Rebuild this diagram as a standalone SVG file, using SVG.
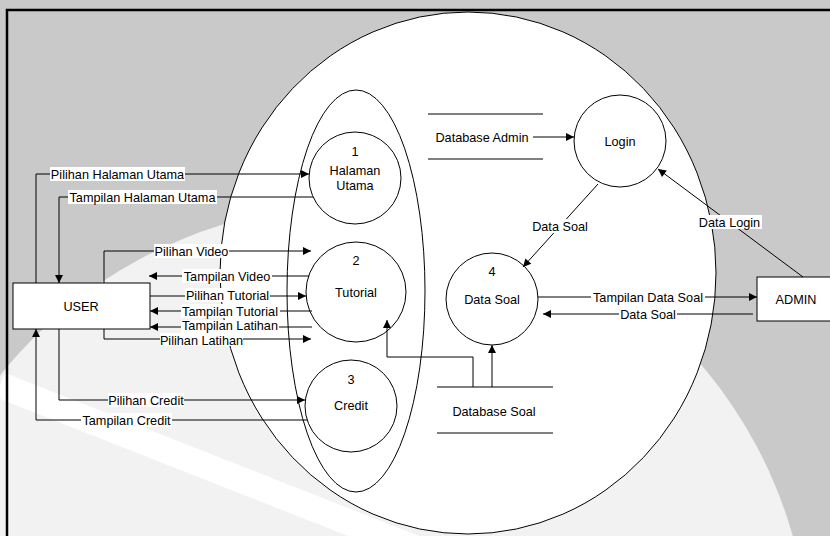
<svg xmlns="http://www.w3.org/2000/svg" width="830" height="536" viewBox="0 0 830 536">
<style>
.ln{fill:none;stroke:#000;stroke-width:1}
.sh{fill:#fff;stroke:#000;stroke-width:1}
.t{font-family:"Liberation Sans",Arial,sans-serif;font-size:12.7px;fill:#000;text-anchor:middle}
.lb{fill:#fff;stroke:none}
</style>
<defs>
<marker id="ah" viewBox="0 0 10 10" refX="10" refY="5" markerWidth="9" markerHeight="8" markerUnits="userSpaceOnUse" orient="auto">
<path d="M0,0 L10,5 L0,10 z" fill="#000"/>
</marker>
<clipPath id="inner"><circle cx="355" cy="660" r="455"/></clipPath>
</defs>
<g id="background">
<rect x="0" y="0" width="830" height="536" fill="#c9c9c9"/>
<circle cx="355" cy="660" r="455" fill="#f2f2f2"/>
<g clip-path="url(#inner)">
<line x1="0" y1="385" x2="460" y2="566" stroke="#fff" stroke-width="26"/>
</g>
<path d="M7,536 V10 H830" fill="none" stroke="#000" stroke-width="2.5"/>
</g>
<g id="context">
<ellipse cx="468" cy="273" rx="248" ry="261" class="sh"/>
</g>
<g id="process-group">
<ellipse cx="356" cy="291" rx="69" ry="201" class="sh"/>
</g>
<g id="p1">
<circle cx="355" cy="178" r="46" class="sh"/>
<text x="355" y="156" class="t">1</text>
<text x="355" y="175" class="t">Halaman</text>
<text x="355" y="190" class="t">Utama</text>
</g>
<g id="p2">
<circle cx="356" cy="292" r="50" class="sh"/>
<text x="356" y="265" class="t">2</text>
<text x="356" y="297" class="t">Tutorial</text>
</g>
<g id="p3">
<circle cx="351" cy="406" r="46" class="sh"/>
<text x="351" y="384" class="t">3</text>
<text x="351" y="410" class="t">Credit</text>
</g>
<g id="login">
<circle cx="620" cy="141" r="46" class="sh"/>
<text x="620" y="145.5" class="t">Login</text>
</g>
<g id="p4">
<circle cx="492" cy="299" r="46" class="sh"/>
<text x="492" y="276" class="t">4</text>
<text x="492" y="304" class="t">Data Soal</text>
</g>
<g id="user">
<rect x="13" y="283" width="137" height="46" class="sh"/>
<text x="81" y="310.5" class="t">USER</text>
</g>
<g id="admin">
<rect x="757" y="277" width="76" height="44" class="sh"/>
<text x="796" y="303.5" class="t">ADMIN</text>
</g>
<g id="db-admin">
<line x1="428" y1="114" x2="543" y2="114" class="ln"/>
<line x1="428" y1="159" x2="543" y2="159" class="ln"/>
<text x="482" y="141.5" class="t">Database Admin</text>
</g>
<g id="db-soal">
<line x1="437" y1="387" x2="553" y2="387" class="ln"/>
<line x1="437" y1="433" x2="553" y2="433" class="ln"/>
<text x="494" y="415.5" class="t">Database Soal</text>
</g>
<g id="connectors">
<path d="M36,283 V174 H309" class="ln" marker-end="url(#ah)"/>
<path d="M313,197 H59 V283" class="ln" marker-end="url(#ah)"/>
<path d="M104,283 V251 H311" class="ln" marker-end="url(#ah)"/>
<path d="M309,276 H149" class="ln" marker-end="url(#ah)"/>
<path d="M150,296 H306" class="ln" marker-end="url(#ah)"/>
<path d="M312,311 H150" class="ln" marker-end="url(#ah)"/>
<path d="M312,327 H150" class="ln" marker-end="url(#ah)"/>
<path d="M104,329 V339 H311" class="ln" marker-end="url(#ah)"/>
<path d="M59,329 V400 H305" class="ln" marker-end="url(#ah)"/>
<path d="M307,420 H36 V329" class="ln" marker-end="url(#ah)"/>
<path d="M533,137 H574" class="ln" marker-end="url(#ah)"/>
<path d="M598,184 L523,267" class="ln" marker-end="url(#ah)"/>
<path d="M803,277 L658,169" class="ln" marker-end="url(#ah)"/>
<path d="M538,297 H757" class="ln" marker-end="url(#ah)"/>
<path d="M753,314 H543" class="ln" marker-end="url(#ah)"/>
<path d="M473,387 V357 H387 V320" class="ln" marker-end="url(#ah)"/>
<path d="M492,387 V345" class="ln" marker-end="url(#ah)"/>
<g id="labels">
<rect x="50" y="167" width="135" height="14" class="lb"/>
<text x="117.5" y="178.5" class="t">Pilihan Halaman Utama</text>
<rect x="68" y="190" width="149" height="14" class="lb"/>
<text x="142.5" y="201.5" class="t">Tampilan Halaman Utama</text>
<rect x="154" y="244" width="75" height="14" class="lb"/>
<text x="191.5" y="255.5" class="t">Pilihan Video</text>
<rect x="182" y="269" width="90" height="14" class="lb"/>
<text x="227" y="281" class="t">Tampilan Video</text>
<rect x="185" y="288" width="85" height="14" class="lb"/>
<text x="227.5" y="299.5" class="t">Pilihan Tutorial</text>
<rect x="181" y="304" width="99" height="14" class="lb"/>
<text x="230" y="315.5" class="t">Tampilan Tutorial</text>
<rect x="181" y="320" width="98" height="13" class="lb"/>
<text x="230" y="330" class="t">Tampilan Latihan</text>
<rect x="160" y="333" width="83" height="13" class="lb"/>
<text x="201.5" y="344.5" class="t">Pilihan Latihan</text>
<rect x="108" y="393" width="76" height="14" class="lb"/>
<text x="146" y="404.5" class="t">Pilihan Credit</text>
<rect x="81" y="413" width="91" height="14" class="lb"/>
<text x="126.5" y="424.5" class="t">Tampilan Credit</text>
<rect x="531" y="219" width="58" height="14" class="lb"/>
<text x="560" y="230.5" class="t">Data Soal</text>
<rect x="697" y="215" width="65" height="14" class="lb"/>
<text x="729.5" y="226.5" class="t">Data Login</text>
<rect x="591" y="290" width="114" height="14" class="lb"/>
<text x="648" y="301.5" class="t">Tampilan Data Soal</text>
<rect x="619" y="307" width="58" height="14" class="lb"/>
<text x="648" y="318.5" class="t">Data Soal</text>
</g>
</g>
</svg>
